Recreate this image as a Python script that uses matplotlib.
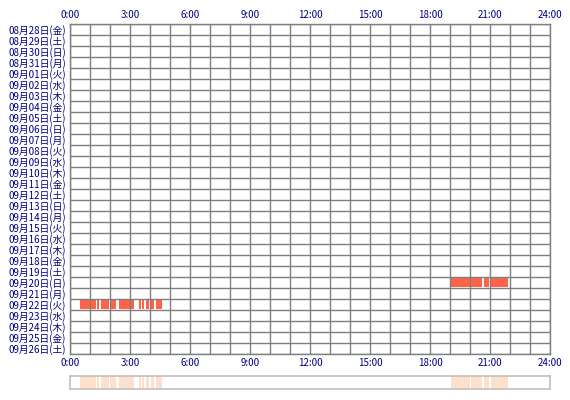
import matplotlib
matplotlib.use("Agg")
import matplotlib.pyplot as plt

plt.rcParams['font.family'] = ['Noto Sans CJK JP', 'DejaVu Sans']

# Zeilen (Tage)
dates = ["08月28日(金)", "08月29日(土)", "08月30日(日)", "08月31日(月)",
         "09月01日(火)", "09月02日(水)", "09月03日(木)", "09月04日(金)",
         "09月05日(土)", "09月06日(日)", "09月07日(月)", "09月08日(火)",
         "09月09日(水)", "09月10日(木)", "09月11日(金)", "09月12日(土)",
         "09月13日(日)", "09月14日(月)", "09月15日(火)", "09月16日(水)",
         "09月17日(木)", "09月18日(金)", "09月19日(土)", "09月20日(日)",
         "09月21日(月)", "09月22日(火)", "09月23日(水)", "09月24日(木)",
         "09月25日(金)", "09月26日(土)"]

# Aktivitaet: Tag, Start (h), Ende (h)
seg_day = ["09月20日(日)"] * 4 + ["09月22日(火)"] * 10
seg_start = [19.05, 20.05, 20.7, 21.03,
             0.5, 1.35, 1.55, 2.0, 2.45, 3.45, 3.6, 3.8, 4.05, 4.3]
seg_end = [20.0, 20.6, 20.95, 21.9,
           1.3, 1.45, 1.95, 2.3, 3.2, 3.55, 3.7, 3.95, 4.2, 4.6]

hour_ticks = [0, 3, 6, 9, 12, 15, 18, 21, 24]
hour_labels = ["0:00", "3:00", "6:00", "9:00", "12:00", "15:00", "18:00", "21:00", "24:00"]

navy = "#000080"
grid_col = "#7f7f7f"
bar_col = "#ff6347"
sum_col = "#ffe0cc"

fig = plt.figure(figsize=(5.7, 4), dpi=100)
ax = fig.add_axes([70 / 570, 46 / 400, 480 / 570, 330 / 400])

rows = [dates.index(d) + 0.5 for d in seg_day]
widths = [e - s for s, e in zip(seg_start, seg_end)]
ax.barh(rows, widths, left=seg_start, height=0.85, color=bar_col, zorder=1)

ax.set_xlim(0, 24)
ax.set_ylim(len(dates), 0)
ax.set_xticks(hour_ticks)
ax.set_xticklabels(hour_labels)
ax.set_xticks(range(25), minor=True)
ax.set_yticks([i + 0.5 for i in range(len(dates))])
ax.set_yticklabels(dates)
ax.set_yticks(range(len(dates) + 1), minor=True)
ax.grid(True, which="both", color=grid_col, linewidth=1.0, zorder=2)
ax.grid(False, which="major", axis="y")
ax.set_axisbelow(False)
ax.tick_params(which="both", length=0)
ax.tick_params(axis="x", labeltop=True, labelbottom=True, labelsize=7, colors=navy, pad=3)
ax.tick_params(axis="y", labelsize=7, colors=navy, pad=3)
for s in ax.spines.values():
    s.set_color(grid_col)
    s.set_linewidth(1.0)

# Zusammenfassung unten
ax2 = fig.add_axes([70 / 570, 11 / 400, 480 / 570, 13 / 400])
ax2.barh([0.5] * len(seg_start), widths, left=seg_start, height=1.0, color=sum_col)
ax2.set_xlim(0, 24)
ax2.set_ylim(0, 1)
ax2.set_xticks([])
ax2.set_yticks([])
for s in ax2.spines.values():
    s.set_color("#c0c0c0")
    s.set_linewidth(1.2)

fig.savefig("out.png", dpi=100)
